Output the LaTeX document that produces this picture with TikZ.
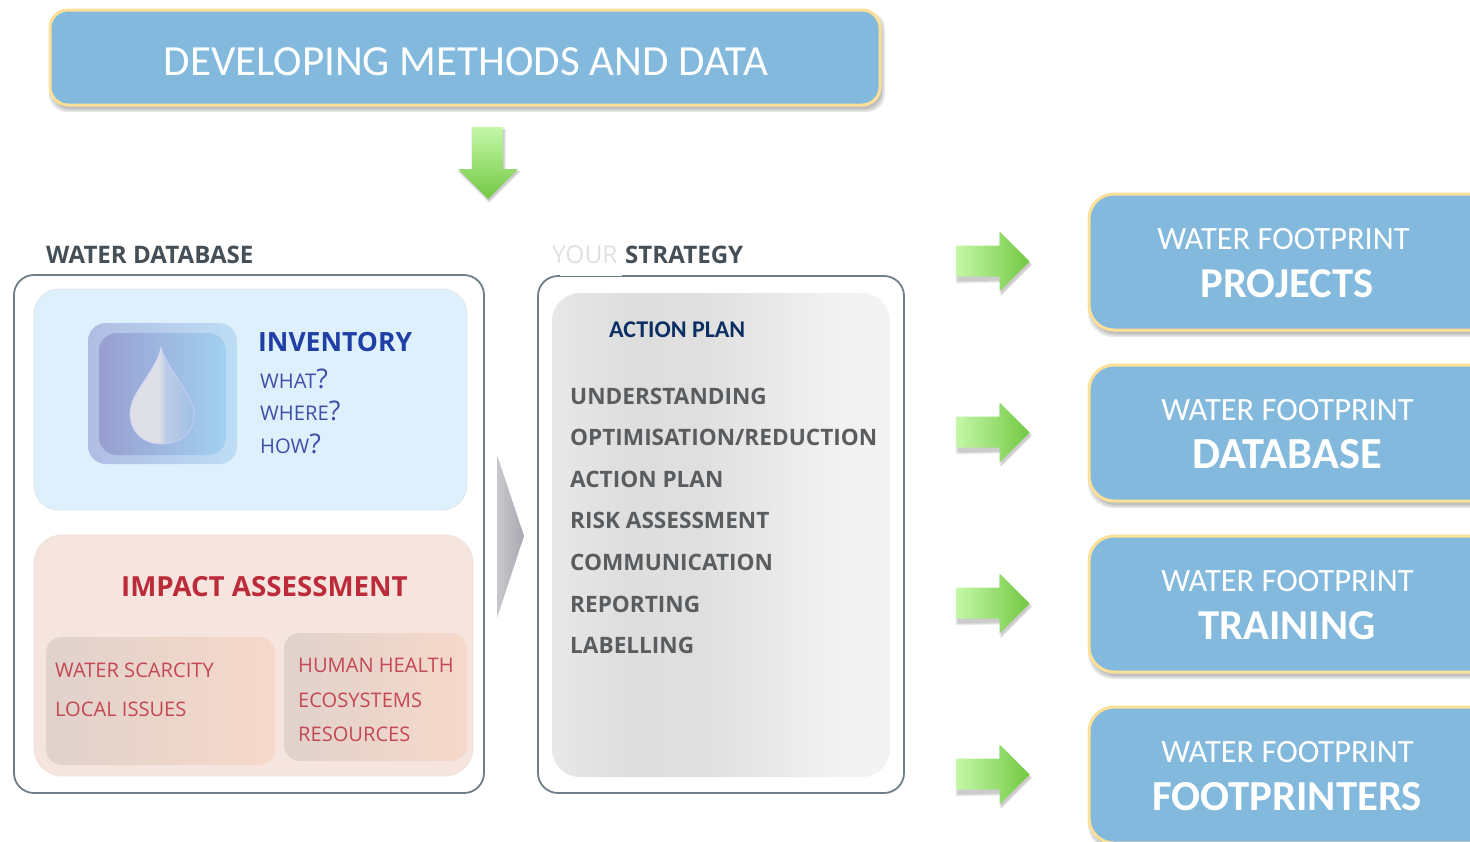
\documentclass[tikz,border=0pt]{standalone}
\usepackage{fontspec}
\setmainfont{Carlito}
\newfontfamily\inner{Open Sans}
\usetikzlibrary{calc}
\definecolor{boxblue}{HTML}{82B9DC}
\definecolor{boxgold}{HTML}{FDE098}
\definecolor{frameg}{HTML}{6F7F88}
\definecolor{headg}{HTML}{444F57}
\definecolor{strat}{HTML}{5A5D60}
\definecolor{invblue}{HTML}{1F3FA5}
\definecolor{qblue}{HTML}{3F4FA8}
\definecolor{impred}{HTML}{BC2B3A}
\definecolor{subred}{HTML}{C44853}
\definecolor{navy}{HTML}{0B2E63}
\definecolor{gl}{HTML}{C4F7A8}
\definecolor{gd}{HTML}{72C842}
\definecolor{invfill}{HTML}{DEF0FB}
\definecolor{invedge}{HTML}{DDE6F2}
\definecolor{impfill}{HTML}{F5E5DE}
\definecolor{impedge}{HTML}{F0E2DC}
\definecolor{iconoa}{HTML}{B0BDE3}
\definecolor{iconob}{HTML}{BDDDF5}
\definecolor{iconia}{HTML}{989ECF}
\definecolor{iconib}{HTML}{A2D1F0}
\definecolor{suba}{HTML}{E0D2CC}
\definecolor{subb}{HTML}{F6D8CA}
\definecolor{chva}{HTML}{C8C8CC}
\definecolor{chvb}{HTML}{A8A9AF}
\pgfdeclarehorizontalshading{stratpanel}{100bp}{rgb(0bp)=(.91,.91,.91);rgb(25bp)=(.91,.91,.91);rgb(36bp)=(.87,.87,.87);rgb(47bp)=(.875,.875,.875);rgb(68bp)=(.95,.95,.95);rgb(75bp)=(.955,.955,.955);rgb(100bp)=(.955,.955,.955)}
\pgfdeclarehorizontalshading{dropshade}{100bp}{rgb(0bp)=(.875,.88,.905);rgb(25bp)=(.875,.88,.905);rgb(47bp)=(.875,.88,.905);rgb(53bp)=(.74,.8,.9);rgb(75bp)=(.62,.75,.9);rgb(100bp)=(.62,.75,.9)}
\tikzset{
  x=1pt,y=-1pt,
  bluebox/.style={draw=boxgold,line width=3pt,fill=boxblue,rounded corners=#1},
  framebox/.style={draw=frameg,line width=1.8pt,fill=white,rounded corners=20pt},
  panel/.style={rounded corners=#1,line width=.8pt},
  lbl/.style={inner sep=0pt,anchor=base west},
  ctr/.style={inner sep=0pt,anchor=base,text=white},
  shadowcol/.style={fill=black,opacity=.09,draw=none},
  headfont/.style={font=\inner\bfseries\fontsize{24.1}{24}\selectfont},
  listfont/.style={font=\inner\bfseries\fontsize{22.6}{23}\selectfont},
  subfont/.style={font=\inner\fontsize{20.1}{21}\selectfont},
  qfont/.style={font=\inner\fontsize{20.2}{21}\selectfont},
}
\newcommand{\boxat}[6]{%
  \node[#6,inner sep=0pt,minimum width={(#4)-(#2)},minimum height={(#5)-(#3)}] (#1) at ({((#2)+(#4))/2},{((#3)+(#5))/2}) {};}
\newcommand{\softshadow}[5]{%
  \foreach \e in {0,1.5,3}{%
    \fill[shadowcol,rounded corners=#5] ({#1+2-\e},{#2+4-\e}) rectangle ({#3+2+\e},{#4+4+\e});}}
\newcommand{\rarrow}[2]{%
  \foreach \e in {0,1,2}{%
    \fill[black,opacity=.07] ({#1+1-\e},{#2-12-\e}) -- ++({43},0) -- ++(0,-14) -- ({#1+74+\e},{#2+4}) -- ({#1+44},{#2+34+\e}) -- ++(0,-14) -- ({#1+1-\e},{#2+21+\e}) -- cycle;}
  \shade[left color=gl,right color=gd] (#1,{#2-15}) -- ++(43,0) -- ++(0,-14) -- ++(30,30) -- ++(-30,30) -- ++(0,-15) -- ++(-43,0) -- cycle;}
\begin{document}
\begin{tikzpicture}
\useasboundingbox (0,0) rectangle (1470,841);
\clip (0,0) rectangle (1470,841);
\fill[white] (0,0) rectangle (1470,841);
% top box
\softshadow{50}{10}{880}{105}{18pt}
\boxat{top}{50}{10}{880}{105}{bluebox=18pt}
\node[ctr,font=\fontsize{43}{43}\selectfont] (toptext) at (466,75) {DEVELOPING METHODS AND DATA};
% down arrow
\foreach \e in {0,1,2}{
  \fill[black,opacity=.07] ({473-\e},129) -- ({504+\e},129) -- ({504+\e},171) -- ({519+\e},171) -- (489,{201+\e}) -- ({459-\e},171) -- ({473-\e},171) -- cycle;}
\shade[top color=gl,bottom color=gd] (472,127) -- (503,127) -- (503,169) -- (518,169) -- (488,199) -- (458,169) -- (472,169) -- cycle;
% headings
\node[lbl,text=headg,headfont] (dbhead) at (46,263) {WATER DATABASE};
\node[lbl,text=black!12,font=\inner\fontsize{24.5}{25}\selectfont] (your) at (552,263) {YOUR};
\node[lbl,text=headg,headfont] (strategy) at (625,263) {STRATEGY};
% frames
\boxat{dbframe}{14}{275}{484}{793}{framebox}
\boxat{stframe}{538}{276}{904}{793}{framebox}
\draw[white,line width=.9pt] (560,275.3) -- (622,275.3);
% inventory
\boxat{invpanel}{34}{289}{467}{510}{panel=25pt,draw=invedge,fill=invfill}
\boxat{iconout}{88}{323}{237}{464}{panel=18pt,left color=iconoa,right color=iconob}
\boxat{iconin}{99}{333}{226}{455}{panel=18pt,left color=iconia,right color=iconib}
\shade[shading=dropshade,draw=white!80!blue,line width=.7pt] (161,347) .. controls (166,368) and (194,395) .. (194,415) .. controls (194,433) and (180,444) .. (162,444) .. controls (144,444) and (130,433) .. (130,413) .. controls (130,392) and (156,372) .. (161,347) -- cycle;
\node[lbl,text=invblue,font=\inner\bfseries\fontsize{26.5}{27}\selectfont] (inv) at (258,351) {INVENTORY};
\node[lbl,text=qblue,qfont] (what) at (260,388) {WHAT\fontsize{27}{27}\selectfont ?};
\node[lbl,text=qblue,qfont] (where) at (260,420) {WHERE\fontsize{27}{27}\selectfont ?};
\node[lbl,text=qblue,qfont] (how) at (260,453) {HOW\fontsize{27}{27}\selectfont ?};
% impact
\boxat{imppanel}{34}{535}{473}{776}{panel=28pt,draw=impedge,fill=impfill}
\node[lbl,text=impred,font=\inner\bfseries\fontsize{27.7}{28}\selectfont] (imp) at (121,596) {IMPACT ASSESSMENT};
\boxat{subl}{46}{637}{275}{765}{panel=16pt,left color=suba,right color=subb}
\boxat{subr}{284}{633}{467}{761}{panel=16pt,left color=suba,right color=subb}
\node[lbl,text=subred,subfont] (s1) at (55,677) {WATER SCARCITY};
\node[lbl,text=subred,subfont] (s2) at (55,716) {LOCAL ISSUES};
\node[lbl,text=subred,subfont] (s3) at (298,672) {HUMAN HEALTH};
\node[lbl,text=subred,subfont] (s4) at (298,707) {ECOSYSTEMS};
\node[lbl,text=subred,subfont] (s5) at (298,741) {RESOURCES};
% chevron
\shade[left color=chva,right color=chvb] (497,455) -- (524,536) -- (497,618) -- cycle;
% strategy panel
\boxat{stpanel}{552}{293}{890}{777}{panel=28pt,shading=stratpanel}
\node[lbl,text=navy,font=\bfseries\fontsize{24}{24}\selectfont] (ap) at (609,337) {ACTION PLAN};
\foreach \n/\t/\y in {a/UNDERSTANDING/404,b/{OPTIMISATION/REDUCTION}/445,c/ACTION PLAN/487,d/RISK ASSESSMENT/528,e/COMMUNICATION/570,f/REPORTING/612,g/LABELLING/653}{
  \node[lbl,text=strat,listfont] (st\n) at (570,\y) {\t};
}
% right arrows and boxes
\foreach \n/\y/\word/\xw/\sz in {p/194/PROJECTS/1283.5/42.6,d/365/DATABASE/1287.5/44.4,t/536/TRAINING/1287.5/42.6,f/707/FOOTPRINTERS/1287.5/42.8}{
  \pgfmathsetmacro{\ya}{\y+66.5}
  \rarrow{956.5}{\ya}
  \pgfmathsetmacro{\yb}{\y+136}
  \softshadow{1089}{\y}{1495}{\yb}{25pt}
  \boxat{box\n}{1089}{\y}{1495}{\yb}{bluebox=25pt}
  \pgfmathsetmacro{\yc}{\y+55}
  \pgfmathsetmacro{\yd}{\y+103}
  \node[ctr,font=\fontsize{32.5}{33}\selectfont] (wf\n) at (\xw,\yc) {WATER FOOTPRINT};
  \node[ctr,font=\bfseries\fontsize{\sz}{43}\selectfont] (w\n) at (1287,\yd) {\word};
}
\end{tikzpicture}
\end{document}
